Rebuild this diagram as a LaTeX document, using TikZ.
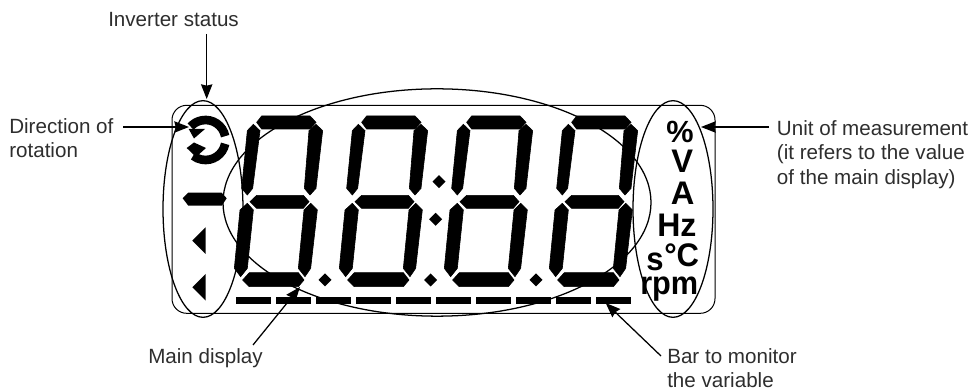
\documentclass[tikz,border=0pt]{standalone}
\usepackage{fontspec}
\setmainfont{Liberation Sans}
\usetikzlibrary{arrows.meta,shapes.geometric}
\definecolor{labelgrey}{gray}{0.18}
\tikzset{
  x=0.75pt,y=-0.75pt,
  label text/.style={anchor=north west,inner sep=0pt,align=left,text=labelgrey,
    font=\fontsize{15.45}{18.6}\selectfont},
  unit text/.style={anchor=base west,inner sep=0pt,text=black,font=\fontsize{24.5}{26}\selectfont\bfseries},
  zone/.style={draw=black,line width=0.95pt,ellipse,inner sep=0pt,fill=none},
  frame/.style={draw=black,line width=0.75pt,rounded corners=11pt},
  pointer/.style={draw=black,line width=0.95pt,-{Stealth[length=11pt,width=8.5pt,inset=1pt]}},
  segment/.style={fill=black,draw=none},
  digit segment/.style={fill=black,draw=black,line width=0.45pt,line join=miter},
}
\newcommand{\sevenseg}[1]{%
\begin{scope}[xshift=120pt+#1*78.75pt,yshift=-60pt,x=0.25pt,y=-0.25pt]
  \fill[digit segment] (290,127)--(305,108)--(450,108)--(468,127)--(450,147)--(305,147)--cycle;
  \fill[digit segment] (262,152)--(280,133)--(300,152)--(278,325)--(262,345)--(245,325)--cycle;
  \fill[digit segment] (447,152)--(468,133)--(488,152)--(468,325)--(450,345)--(433,325)--cycle;
  \fill[digit segment] (270,365)--(290,346)--(430,346)--(447,365)--(430,385)--(290,385)--cycle;
  \fill[digit segment] (240,390)--(262,370)--(280,390)--(262,565)--(242,590)--(223,565)--cycle;
  \fill[digit segment] (432,390)--(452,370)--(472,390)--(452,565)--(435,590)--(415,565)--cycle;
  \fill[digit segment] (248,600)--(268,578)--(415,578)--(432,600)--(415,620)--(268,620)--cycle;
\end{scope}}
\newcommand{\dotdiamond}[2]{\fill[segment] (#1-6.5,#2)--(#1,#2-6.5)--(#1+6.5,#2)--(#1,#2+6.5)--cycle;}
\begin{document}
\begin{tikzpicture}
\useasboundingbox (0,0) rectangle (976,391);
\fill[white] (0,0) rectangle (976,391);
% frame
\draw[frame] (172,105.3) rectangle (715,313.3);
% digits
\sevenseg{0}\sevenseg{1}\sevenseg{2}\sevenseg{3}
\dotdiamond{325}{280}\dotdiamond{430.7}{280}\dotdiamond{536}{280}
\dotdiamond{439}{181.7}\dotdiamond{435.7}{219.3}
% bars
\foreach \i in {0,...,9}{\fill[segment] (236+\i*39.95,296.7) rectangle (271.4+\i*39.95,304);}
% rotation icon
\draw[line width=6.5pt,line cap=butt] (205.5,140) ++(-11:20) arc[start angle=-11,end angle=-138,radius=20];
\draw[line width=6.5pt,line cap=butt] (205.5,140) ++(11:20) arc[start angle=11,end angle=128,radius=20];
\fill[segment] (188.7,129)--(205,129)--(194,138.5)--cycle;
\fill[segment] (186.7,148)--(194,142.5)--(206,148)--(196,157)--cycle;
% status marks
\fill[segment] (182.7,198.3)--(188.3,192.7)--(221.7,192.7)--(226.7,198.3)--(221.7,205.7)--(188.3,205.7)--cycle;
\fill[segment] (192.3,240.7)--(205.7,227.3)--(205.7,254)--cycle;
\fill[segment] (192.3,287.3)--(205.7,274)--(205.7,300.7)--cycle;
% units
\node[unit text,font=\fontsize{23}{26}\selectfont\bfseries] (upct) at (666,143) {\%};
\node[unit text] (uv) at (671,173) {V};
\node[unit text] (ua) at (670.5,205) {A};
\node[unit text,xscale=0.98] (uhz) at (657,237) {Hz};
\node[unit text,xscale=0.95] (us) at (646,270.5) {s};
\node[unit text,xscale=0.95] (uc) at (664,266.7) {°C};
\node[unit text,xscale=0.94] (urpm) at (640,295) {rpm};
% zones
\node[zone,minimum width=60pt,minimum height=162.5pt] (zleft) at (203,209) {};
\node[zone,minimum width=321pt,minimum height=170.5pt] (zmain) at (437,202.5) {};
\node[zone,minimum width=60pt,minimum height=162.5pt] (zright) at (673,209) {};
% labels
\node[label text] (linv) at (108,12) {Inverter status};
\node[label text] (ldir) at (9,118) {Direction of\\rotation};
\node[label text] (lunit) at (776.7,120) {Unit of measurement\\(it refers to the value\\of the main display)};
\node[label text] (lmain) at (148,348) {Main display};
\node[label text] (lbar) at (667,348) {Bar to monitor\\the variable};
% connector ends
\coordinate (ainvs) at (206.7,34);
\coordinate (ainvt) at (206.7,99);
\coordinate (adirs) at (123,127);
\coordinate (adirt) at (189,127);
\coordinate (aunis) at (769,127);
\coordinate (aunit) at (701,127);
\coordinate (amains) at (253,345);
\coordinate (amaint) at (300,287);
\coordinate (abars) at (661,356);
\coordinate (abart) at (605.7,303);
\draw[pointer] (ainvs)--(ainvt);
\draw[pointer] (adirs)--(adirt);
\draw[pointer] (aunis)--(aunit);
\draw[pointer] (amains)--(amaint);
\draw[pointer] (abars)--(abart);
\end{tikzpicture}
\end{document}
